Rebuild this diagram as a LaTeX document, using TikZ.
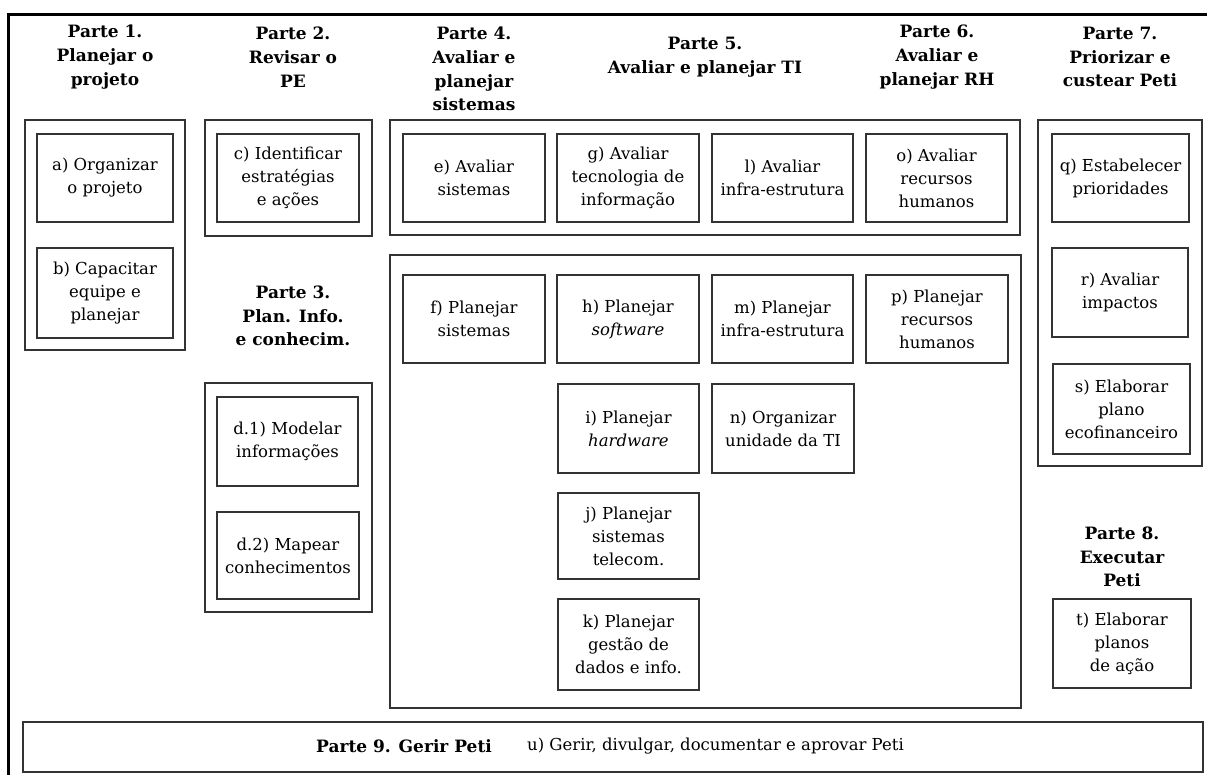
\documentclass[tikz,border=0pt]{standalone}
\usepackage{fontspec}
\setmainfont{DejaVu Serif}
\newcommand\tbox[6]{%
  \node[task, minimum width={#4-#2}, minimum height={#5-#3}] (#1)
    at ({(#2+#4)/2},{(#3+#5)/2}) {#6};}
\newcommand\gbox[5]{%
  \node[group, minimum width={#4-#2}, minimum height={#5-#3}] (#1)
    at ({(#2+#4)/2},{(#3+#5)/2}) {};}
\begin{document}
\begin{tikzpicture}[x=1pt,y=-1pt,
  task/.style={draw=black!80, line width=1.3pt, align=center, inner sep=0pt,
    font=\fontsize{16.5}{23}\selectfont},
  group/.style={draw=black!80, line width=1.3pt, inner sep=0pt},
  title/.style={align=center, inner sep=0pt,
    font=\fontsize{17}{23.7}\selectfont\bfseries},
  frame/.style={line width=3.5pt, black, line join=miter}]
\useasboundingbox (0,0) rectangle (1207,774);

% outer frame (top and left edges)
\coordinate (ftr) at (1210,14.3);
\coordinate (ftl) at (8.5,14.3);
\coordinate (fbl) at (8.5,778);
\draw[frame] (ftr) -- (ftl) -- (fbl);

% group frames
\gbox{g1}{25}{120}{185}{350}
\gbox{g2}{205}{120}{372}{236}
\gbox{g3}{205}{383}{372}{612}
\gbox{geval}{390}{120}{1020}{235}
\gbox{gplan}{390}{255}{1021}{708}
\gbox{g7}{1038}{120}{1202}{466}
\gbox{g9}{23}{722}{1203}{772}

% titles
\node[title] (t1) at (105,57)  {Parte 1.\\Planejar o\\projeto};
\node[title] (t2) at (293,57)  {Parte 2.\\Revisar o\\PE};
\node[title] (t3) at (293,316) {Parte 3.\\Plan. Info.\\e conhecim.};
\node[title] (t4) at (474,69)  {Parte 4.\\Avaliar e\\planejar\\sistemas};
\node[title] (t5) at (705,57)  {Parte 5.\\Avaliar e planejar TI};
\node[title] (t6) at (937,57)  {Parte 6.\\Avaliar e\\planejar RH};
\node[title] (t7) at (1120,57) {Parte 7.\\Priorizar e\\custear Peti};
\node[title] (t8) at (1122,557) {Parte 8.\\Executar\\Peti};

% tasks
\tbox{a}{37}{134}{173}{222}{a) Organizar\\o projeto}
\tbox{b}{37}{248}{173}{338}{b) Capacitar\\equipe e\\planejar}
\tbox{c}{217}{134}{359}{222}{c) Identificar\\estratégias\\e ações}
\tbox{d1}{217}{397}{358}{486}{d.1) Modelar\\informações}
\tbox{d2}{217}{512}{359}{599}{d.2) Mapear\\conhecimentos}
\tbox{e}{403}{134}{545}{222}{e) Avaliar\\sistemas}
\tbox{g}{557}{134}{699}{222}{g) Avaliar\\tecnologia de\\informação}
\tbox{l}{712}{134}{853}{222}{l) Avaliar\\infra-estrutura}
\tbox{o}{866}{134}{1007}{222}{o) Avaliar\\recursos\\humanos}
\tbox{f}{403}{275}{545}{363}{f) Planejar\\sistemas}
\tbox{h}{557}{275}{699}{363}{h) Planejar\\\textit{software}}
\tbox{m}{712}{275}{853}{363}{m) Planejar\\infra-estrutura}
\tbox{p}{866}{275}{1008}{363}{p) Planejar\\recursos\\humanos}
\tbox{i}{558}{384}{699}{473}{i) Planejar\\\textit{hardware}}
\tbox{n}{712}{384}{854}{473}{n) Organizar\\unidade da TI}
\tbox{j}{558}{493}{699}{579}{j) Planejar\\sistemas\\telecom.}
\tbox{k}{558}{599}{699}{690}{k) Planejar\\gestão de\\dados e info.}
\tbox{q}{1052}{134}{1189}{222}{q) Estabelecer\\prioridades}
\tbox{r}{1052}{248}{1188}{337}{r) Avaliar\\impactos}
\tbox{s}{1053}{364}{1190}{454}{s) Elaborar\\plano\\ecofinanceiro}
\tbox{t}{1053}{599}{1191}{688}{t) Elaborar\\planos\\de ação}

% part 9 line
\node[title, anchor=west] (t9) at (316,746) {Parte 9. Gerir Peti};
\node[anchor=west, inner sep=0pt, font=\fontsize{16.5}{23}\selectfont] (u)
  at (527,746) {u) Gerir, divulgar, documentar e aprovar Peti};
\end{tikzpicture}
\end{document}
